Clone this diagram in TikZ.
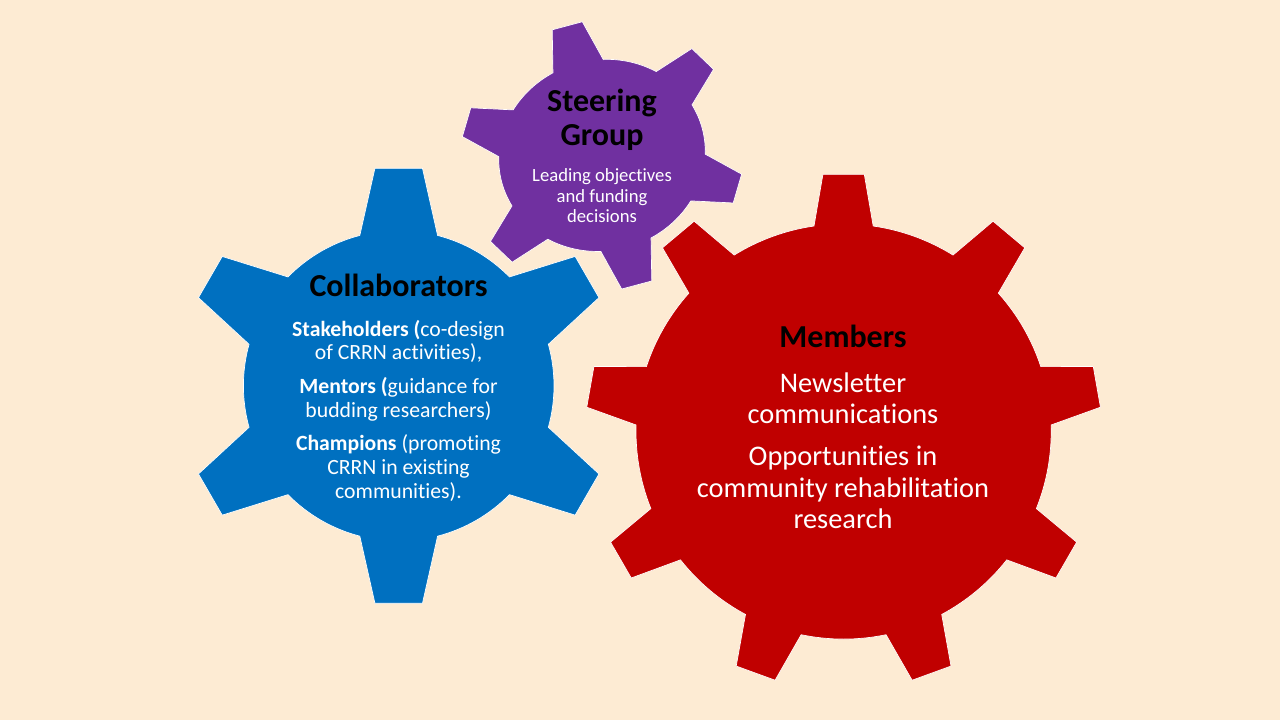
\documentclass[tikz,border=0pt]{standalone}
\usepackage{fontspec}
\setmainfont{Carlito}[Ligatures=NoCommon]
\definecolor{slidebg}{HTML}{FDEBD3}
\definecolor{gearblue}{HTML}{0070C0}
\definecolor{gearred}{HTML}{C00000}
\definecolor{gearpurple}{HTML}{7030A0}
% colour, teeth, body radii, tip radii, tip and base half angles
\newcommand{\gearbody}[8]{%
\draw[gearedge,fill=#1] (90-#8:#3 and #4)
  foreach \k [evaluate=\k as \t using 90+(\k-1)*360/#2] in {1,...,#2} {
    -- (\t-#7:#5 and #6) -- (\t+#7:#5 and #6) -- (\t+#8:#3 and #4)
    arc[start angle=\t+#8,end angle=\t+360/#2-#8,x radius=#3,y radius=#4]
  } -- cycle;}
\tikzset{
  gearedge/.style={draw=white,line width=.5pt,line join=miter},
  headtext/.style={align=center,text=black,font=\fontsize{24}{25.5}\selectfont\bfseries},
  bodytext/.style={align=center,text=white},
}
\begin{document}
\begin{tikzpicture}[x=.75pt,y=.75pt]
\fill[slidebg] (0,0) rectangle (1280,720);
\begin{scope}[shift={(398.7,334.2)}]
\gearbody{gearblue}{6}{155.3}{155.3}{218.8}{218.8}{6.24}{14.5}
\end{scope}
\begin{scope}[shift={(602,564.6)},rotate=15]
\gearbody{gearpurple}{6}{103.8}{95.5}{142}{135}{6.3}{14.5}
\end{scope}
\begin{scope}[shift={(843.6,288.5)}]
\gearbody{gearred}{9}{207.6}{207.6}{258}{258}{4.6}{8.2}
\end{scope}
% collaborators
\node[headtext] (collabhead) at (398.5,435) {Collaborators};
\node[bodytext,font=\fontsize{16.3}{17.8}\selectfont] (stakeholders) at (398.5,378.5) {\textbf{Stakeholders (}co-design\\of CRRN activities),};
\node[bodytext,font=\fontsize{16.3}{17.8}\selectfont] (mentors) at (398.5,321) {\textbf{Mentors (}guidance for\\budding researchers)};
\node[bodytext,font=\fontsize{16.3}{17.8}\selectfont] (champions) at (398.5,252) {\textbf{Champions} (promoting\\CRRN in existing\\communities).};
% steering group
\node[headtext] (steerhead) at (602,600.5) {Steering\\Group};
\node[bodytext,font=\fontsize{14}{15.4}\selectfont] (steerbody) at (602,524) {Leading objectives\\and funding\\decisions};
% members
\node[headtext] (memberhead) at (843,383.5) {Members};
\node[bodytext,font=\fontsize{21.3}{23.5}\selectfont] (newsletter) at (843,322) {Newsletter\\communications};
\node[bodytext,font=\fontsize{21.3}{23.5}\selectfont] (opportunities) at (843,232.5) {Opportunities in\\community rehabilitation\\research};
\end{tikzpicture}
\end{document}
